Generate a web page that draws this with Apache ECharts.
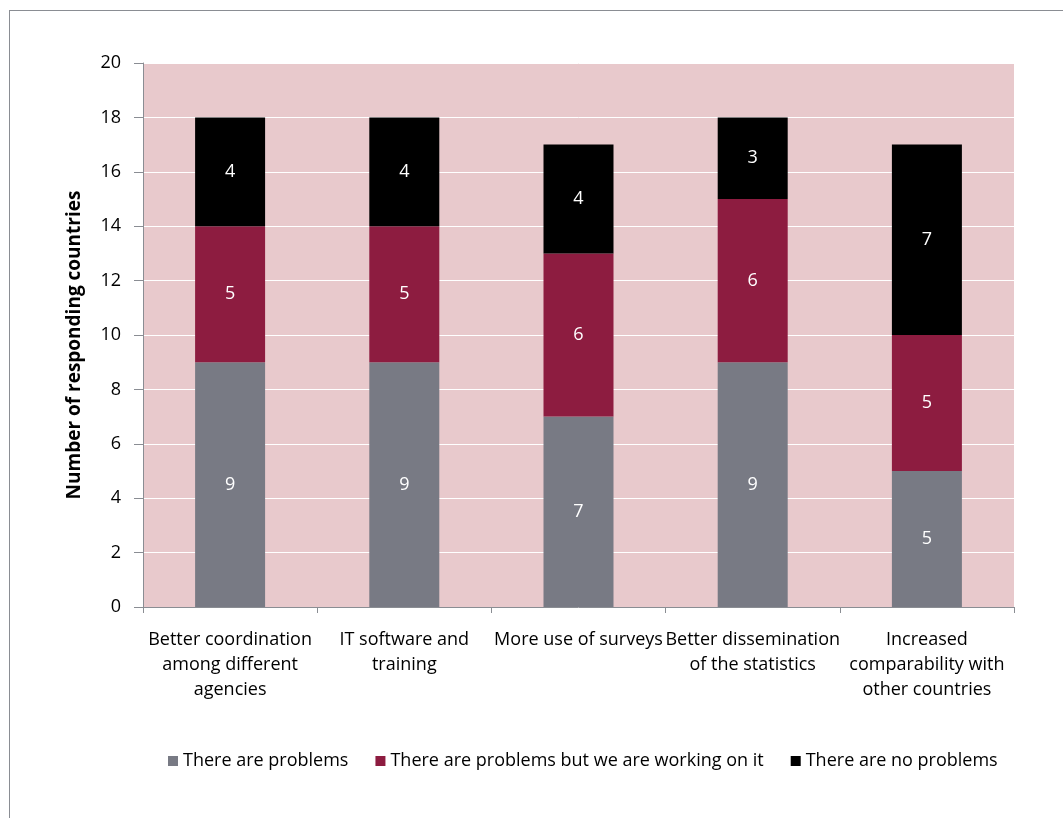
<!DOCTYPE html>
<html>
<head>
<meta charset="utf-8">
<script src="https://cdn.jsdelivr.net/npm/echarts@6/dist/echarts.min.js"></script>
<style>
  html, body { margin: 0; padding: 0; background: #fff; }
  #frame { position: absolute; left: 9px; top: 10px; width: 1100px; height: 900px; border: 1px solid #8a8d93; box-sizing: border-box; }
  #chart { position: absolute; left: 0; top: 0; width: 1063px; height: 818px; }
</style>
</head>
<body>
<div id="frame"></div>
<div id="chart"></div>
<script>
const categories = [
  "Better coordination\namong different\nagencies",
  "IT software and\ntraining",
  "More use of surveys",
  "Better dissemination\nof the statistics",
  "Increased\ncomparability with\nother countries"
];
const seriesNames = [
  "There are problems",
  "There are problems but we are working on it",
  "There are no problems"
];
const problems = [9, 9, 7, 9, 5];
const workingOnIt = [5, 5, 6, 6, 5];
const noProblems = [4, 4, 4, 3, 7];
const colors = ["#787a84", "#8d1c40", "#000000"];

const font = "'Open Sans', sans-serif";
const chart = echarts.init(document.getElementById("chart"));

const seriesData = [problems, workingOnIt, noProblems];
const series = seriesNames.map((name, i) => ({
  name,
  type: "bar",
  stack: "total",
  barWidth: 70,
  itemStyle: { color: colors[i] },
  label: {
    show: true,
    position: "inside",
    color: "#fff",
    fontSize: 18,
    fontFamily: font
  },
  data: seriesData[i]
}));

chart.setOption({
  backgroundColor: "transparent",
  animation: false,
  grid: {
    left: 143, right: 49, top: 63, bottom: 211,
    show: true,
    backgroundColor: "#e8c9cc",
    borderWidth: 0
  },
  legend: {
    data: seriesNames,
    top: 747,
    left: 163,
    itemWidth: 10,
    itemHeight: 10,
    itemGap: 27,
    icon: "rect",
    textStyle: { fontSize: 18, fontFamily: font, color: "#000" }
  },
  xAxis: {
    type: "category",
    data: categories,
    axisLine: { lineStyle: { color: "#8a8d93" } },
    axisTick: { show: true, length: 6, lineStyle: { color: "#8a8d93" } },
    axisLabel: {
      color: "#000",
      fontSize: 18,
      fontFamily: font,
      lineHeight: 25,
      margin: 20,
      interval: 0
    }
  },
  yAxis: {
    type: "value",
    min: 0,
    max: 20,
    interval: 2,
    name: "Number of responding countries",
    nameLocation: "middle",
    nameGap: 59,
    nameTextStyle: {
      fontSize: 19, fontWeight: "bold", fontFamily: font, color: "#000",
      padding: [0, 20, 0, 0]
    },
    axisLine: { show: true, lineStyle: { color: "#8a8d93" } },
    axisTick: { show: true, length: 9, lineStyle: { color: "#8a8d93" } },
    splitLine: { lineStyle: { color: "#ffffff", width: 1 } },
    axisLabel: { color: "#000", fontSize: 18, fontFamily: font, margin: 22 }
  },
  series
});
</script>
</body>
</html>
